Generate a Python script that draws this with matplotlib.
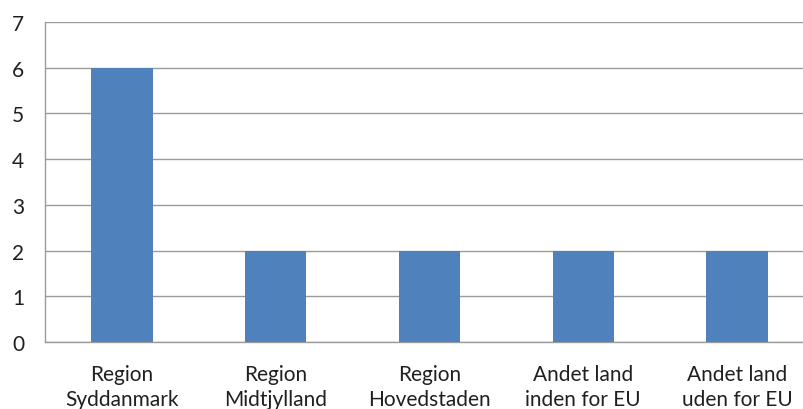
import matplotlib
matplotlib.use("Agg")
import matplotlib.pyplot as plt

categories = ["Region\nSyddanmark", "Region\nMidtjylland", "Region\nHovedstaden",
              "Andet land\ninden for EU", "Andet land\nuden for EU"]
values = [6, 2, 2, 2, 2]
yticks = [0, 1, 2, 3, 4, 5, 6, 7]

plt.rcParams['font.family'] = ['Lato', 'DejaVu Sans']

fig = plt.figure(figsize=(8.04, 4.10), dpi=100)
W, H = 804, 410
left, right, top, bottom = 45, 814, 23, 343
ax = fig.add_axes([left / W, 1 - bottom / H, (right - left) / W, (bottom - top) / H])

x = range(len(categories))
ax.bar(x, values, width=0.4, color="#4F81BD", zorder=3)
ax.set_xlim(-0.5, len(categories) - 0.5)
ax.set_ylim(0, 7)
ax.set_yticks(yticks)
ax.set_xticks(list(x))
ax.set_xticklabels(categories, fontsize=15, color="#202020", linespacing=1.3)
ax.tick_params(axis='y', length=0, pad=15, labelsize=15, labelcolor="#202020")
ax.tick_params(axis='x', length=0, pad=16)
ax.grid(axis='y', color="#9b9b9b", linewidth=1.0, zorder=0)
for s in ["top", "right"]:
    ax.spines[s].set_visible(False)
for s in ["left", "bottom"]:
    ax.spines[s].set_color("#9b9b9b")
    ax.spines[s].set_linewidth(1.0)

fig.savefig("out.png", dpi=100)
